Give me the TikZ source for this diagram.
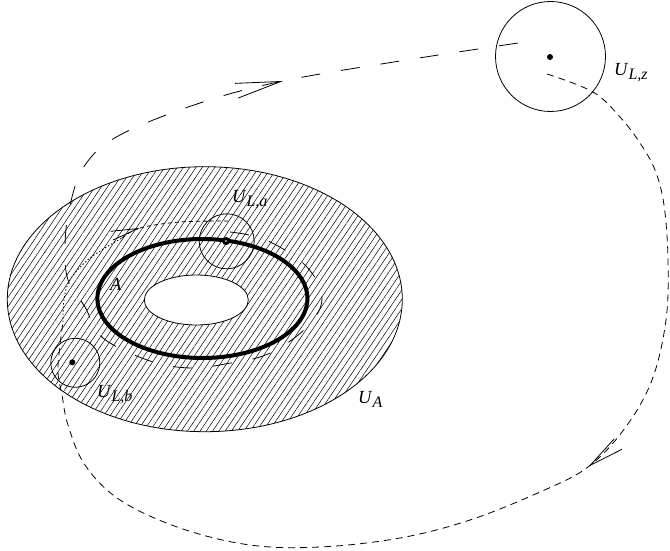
\documentclass[tikz,border=0pt]{standalone}
\usepackage{fontspec}
\setmainfont{Liberation Serif}
\usetikzlibrary{arrows.meta,decorations.markings,patterns.meta}
\newcommand{\ulab}[1]{\textit{U}\raisebox{-4pt}{\fontsize{16}{16}\selectfont\textit{#1}}}

\begin{document}
\begin{tikzpicture}[x=1pt, y=-1pt,
    nbhd/.style={circle, draw, line width=0.8pt, inner sep=0pt},
    dot/.style={circle, fill, inner sep=0pt, minimum size=6pt},
    ring/.style={circle, draw, fill=white, line width=3pt, inner sep=0pt, minimum size=5pt},
    lab/.style={anchor=base west, inner sep=0pt, font=\fontsize{18.5}{22}\selectfont},
    hatch/.style={pattern={Lines[angle=56, distance=5.2pt, line width=0.5pt]}},
    longdash/.style={line width=0.8pt, dash pattern=on 19pt off 21pt},
    shortdash/.style={line width=0.8pt, dash pattern=on 7pt off 5pt},
    midarrow/.style 2 args={decoration={markings,
        mark=at position #1 with {\arrow[line width=0.8pt]{Straight Barb[#2]}}},
        postaction={decorate}}
  ]
    \useasboundingbox (0,0) rectangle (670,551);

    \fill[hatch, even odd rule] (204.8,299.2) ellipse [x radius=197.5pt, y radius=132.5pt]
                                (196.3,300) ellipse [x radius=52pt, y radius=25pt];
    \draw[line width=0.8pt] (204.8,299.2) ellipse [x radius=197.5pt, y radius=132.5pt];
    \draw[line width=0.8pt] (196.3,300) ellipse [x radius=52pt, y radius=25pt];
    \draw[line width=4pt] (202.4,298.5) ellipse [x radius=105pt, y radius=59.5pt];

    \node[nbhd, minimum size=55pt]  (ULa) at (226.7,241.3) {};
    \node[nbhd, minimum size=49pt]  (ULb) at (75.3,362.8) {};
    \node[nbhd, minimum size=110pt] (ULz) at (550.5,56.5) {};

    \coordinate (la0) at (230,232);
    \coordinate (lz0) at (525,42);
    \coordinate (sz0) at (547,74);
    \coordinate (sb1) at (63,322);
    \coordinate (sb2) at (122,238);
    \coordinate (sa0) at (230,221);

    \draw[longdash, midarrow={-245pt}{length=45pt, width=15pt}]
      plot[smooth, tension=0.6] coordinates {(la0) (266,240) (306,266) (322,298) (307,327)
        (268,354) (225,364) (190,368) (150,361) (103,338) (85,307) (68,280) (65,245)
        (70,205) (85,165) (120,135) (200,103) (283,81) (400,61) (lz0)};

    \draw[shortdash, midarrow={472pt}{length=35pt, width=13pt}]
      plot[smooth, tension=0.6] coordinates {(sz0) (593,92) (620,117) (640,143) (655,170)
        (664,205) (668,260) (666,320) (652,380) (625,428) (588,467) (540,492) (470,520)
        (400,538) (320,547) (250,545) (180,528) (120,500) (85,465) (68,425) (62,395)
        (58,372) (60,345) (sb1)};
    \draw[line width=0.8pt, dash pattern=on 1.5pt off 2pt]
      plot[smooth, tension=0.6] coordinates {(sb1) (64,300) (70,280) (90,258) (sb2)};
    \draw[line width=0.8pt, dash pattern=on 4pt off 3pt, midarrow={21pt}{length=27pt, width=9pt}]
      plot[smooth, tension=0.6] coordinates {(sb2) (140,228) (180,222) (sa0)};

    \node[dot]  (pz) at (550,57) {};
    \node[dot]  (pb) at (72.3,362.3) {};
    \node[ring] (pa) at (226,241) {};

    \node[lab] (tA)   at (110,290) {\textit{A}};
    \node[lab] (tUa)  at (232,202) {\ulab{L,a}};
    \node[lab] (tUb)  at (97,397)  {\ulab{L,b}};
    \node[lab] (tUA)  at (358,403) {\ulab{A}};
    \node[lab] (tUz)  at (614,76)  {\ulab{L,z}};
\end{tikzpicture}
\end{document}
